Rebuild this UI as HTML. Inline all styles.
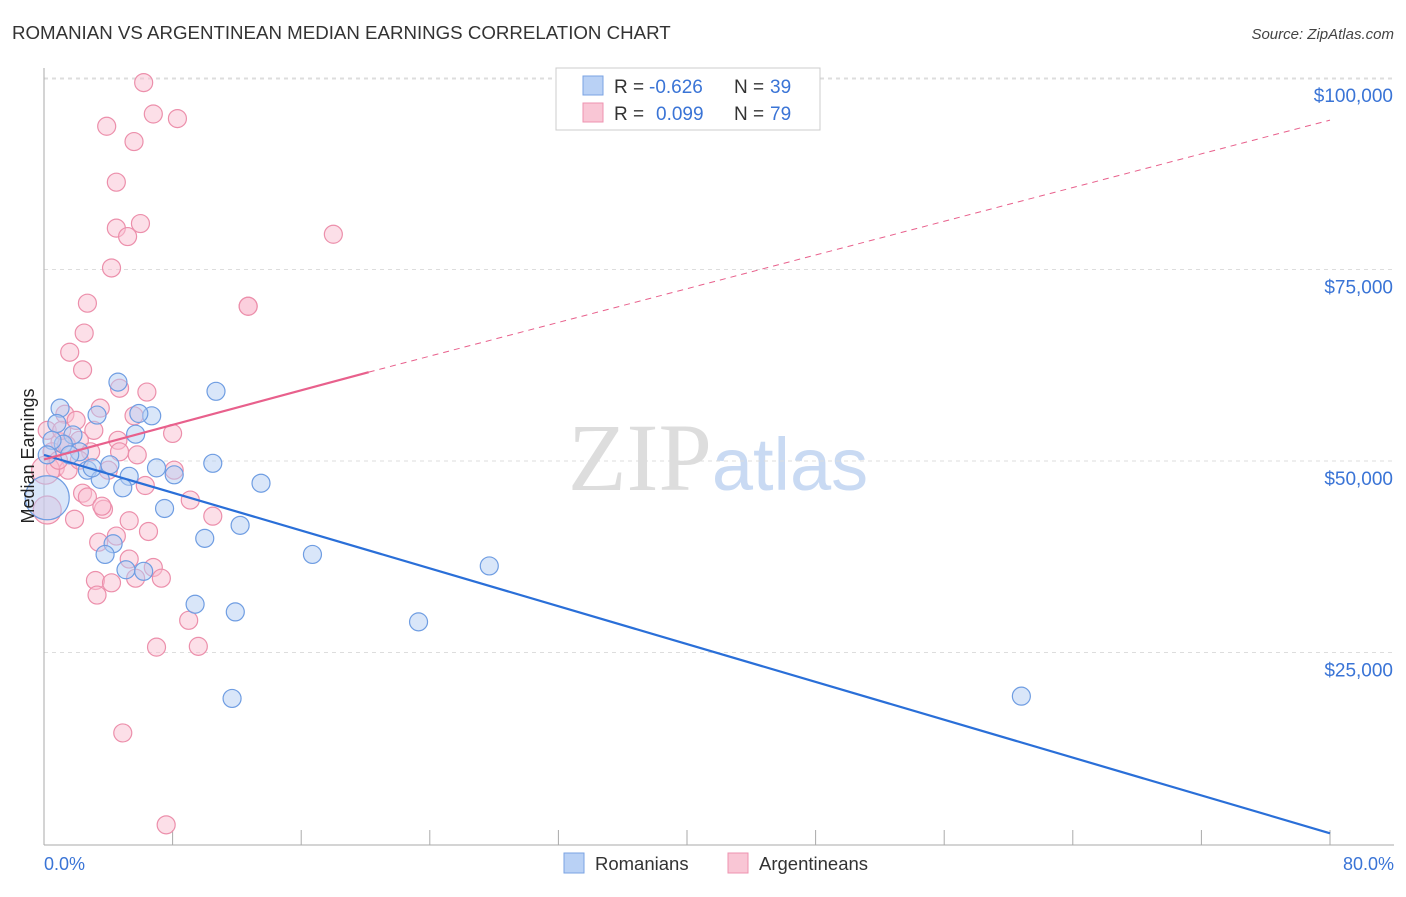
<!DOCTYPE html>
<html><head><meta charset="utf-8"><style>
body{margin:0;background:#fff;font-family:"Liberation Sans",sans-serif;}
svg text{font-family:"Liberation Sans",sans-serif;}
</style></head><body>
<svg id="chart" width="1406" height="892" viewBox="0 0 1406 892" xmlns="http://www.w3.org/2000/svg">
<text x="12" y="39" font-size="18.7" fill="#333">ROMANIAN VS ARGENTINEAN MEDIAN EARNINGS CORRELATION CHART</text>
<text x="1394" y="39" font-size="15" fill="#444" text-anchor="end" font-style="italic">Source: ZipAtlas.com</text>
<text x="718" y="490" font-size="96" text-anchor="middle"><tspan fill="#ddd" font-family="Liberation Serif,serif">ZIP</tspan><tspan fill="#c9daf3" font-size="74">atlas</tspan></text>
<g id="grid"></g>
<g id="axes"></g>
<g id="pts"></g>
<g id="lines"></g>
<text transform="translate(34,456) rotate(-90)" font-size="18" fill="#222" text-anchor="middle">Median Earnings</text>
<text x="44" y="870" font-size="18" fill="#3a74d6">0.0%</text>
<text x="1394" y="870" font-size="18" fill="#3a74d6" text-anchor="end">80.0%</text>
<g>
<rect x="556" y="68" width="264" height="62" fill="#fff" stroke="#ccc"/>
<rect x="583" y="76" width="20" height="19" fill="#b9d1f5" stroke="#7aa3e3"/>
<rect x="583" y="103" width="20" height="19" fill="#f9c6d5" stroke="#ee93b0"/>
<text x="614" y="93" font-size="19" fill="#333">R =</text>
<text x="649" y="93" font-size="19" fill="#3a74d6">-0.626</text>
<text x="734" y="93" font-size="19" fill="#333">N =</text>
<text x="770" y="93" font-size="19" fill="#3a74d6">39</text>
<text x="614" y="120" font-size="19" fill="#333">R =</text>
<text x="656" y="120" font-size="19" fill="#3a74d6">0.099</text>
<text x="734" y="120" font-size="19" fill="#333">N =</text>
<text x="770" y="120" font-size="19" fill="#3a74d6">79</text>
</g>
<g>
<rect x="564" y="853" width="20" height="20" fill="#b9d1f5" stroke="#7aa3e3"/>
<text x="595" y="870" font-size="18.5" fill="#333">Romanians</text>
<rect x="728" y="853" width="20" height="20" fill="#f9c6d5" stroke="#ee93b0"/>
<text x="759" y="870" font-size="18.5" fill="#333">Argentineans</text>
</g>
</svg>
<script>
const yTicks=[25000,50000,75000,100000];
const yTickLabels=["$25,000","$50,000","$75,000","$100,000"];
const blueX=[4.6,10.7,1.0,3.3,6.7,5.9,0.8,5.7,1.8,2.2,4.1,7.0,10.5,2.7,3.5,5.3,8.1,13.5,4.9,7.5,10.0,12.2,4.3,3.8,16.7,27.7,5.1,6.2,9.4,11.9,23.3,11.7,60.8,0.2,1.2,0.5,0.2,1.6,3.0];
const blueY=[60300,59100,56900,56000,55900,56200,54900,53500,53400,51200,49500,49100,49700,48800,47600,48000,48200,47100,46500,43800,39900,41600,39200,37800,37800,36300,35800,35600,31300,30300,29000,19000,19300,45200,52200,52700,50800,50800,49100];
const pinkX=[6.2,6.8,8.3,3.9,5.6,4.5,4.5,6.0,5.2,18.0,4.2,12.7,2.7,2.5,1.6,2.4,4.7,6.4,1.3,3.5,2.0,5.6,3.1,8.0,4.6,2.2,1.0,0.5,1.4,2.9,4.7,5.8,0.7,1.5,8.1,6.3,2.4,2.7,9.1,3.7,3.6,10.5,1.9,5.3,0.2,6.5,4.5,3.4,5.3,6.8,3.2,4.2,7.3,5.7,3.3,9.0,7.0,9.6,4.9,7.6,0.1,0.2,0.9,2.2,4.0,1.1,12.7];
const pinkY=[99400,95300,94700,93700,91700,86400,80400,81000,79300,79600,75200,70200,70600,66700,64200,61900,59500,59000,56100,56900,55300,55900,54000,53600,52700,52700,52500,51200,52100,51200,51200,50800,49100,48800,48800,46800,45800,45300,44900,43700,44100,42800,42400,42200,43600,40800,40200,39400,37200,36100,34400,34100,34700,34700,32500,29200,25700,25800,14500,2500,48800,54000,50100,50100,48800,54000,70200];
const blueTrend=[0,50800,80,1400];
const pinkTrend=[0,50200,20.2,61600,80,94500];
const X0=44,X1=1330,Y0=844,PER=191.5/25000;
const sx=v=>X0+(X1-X0)*v/80, sy=v=>Y0-v*PER;
const NS="http://www.w3.org/2000/svg";
function mk(tag,attrs,parent){const e=document.createElementNS(NS,tag);for(const k in attrs)e.setAttribute(k,attrs[k]);document.getElementById(parent).appendChild(e);return e;}
const gridTop=mk('line',{x1:X0,x2:1394,y1:79,y2:79,stroke:'#ddd','stroke-dasharray':'4,4'},'grid');


yTicks.forEach((t,i)=>{
 const g=mk('line',{x1:X0,x2:1394,y1:sy(t),y2:sy(t),stroke:'#ddd','stroke-dasharray':'4,4'},'grid');
 
 
 const l=mk('text',{x:1393,y:sy(t)+24,'font-size':19,fill:'#3a74d6','text-anchor':'end'},'axes');
 l.textContent=yTickLabels[i];
 
 
});
const ya=mk('line',{x1:X0,x2:X0,y1:68,y2:845,stroke:'#aaa'},'axes');


const xa=mk('line',{x1:X0,x2:1394,y1:845,y2:845,stroke:'#aaa'},'axes');


for(let i=0;i<=10;i++){
 const t=mk('line',{x1:sx(i*8),x2:sx(i*8),y1:830,y2:845,stroke:'#aaa'},'axes');
 
 
}
function pts(xs,ys,fill,stroke,name,bigIdx){
 xs.forEach((x,i)=>{
  const r=(bigIdx.includes(i))?(name==='romanian-point'?22:14):9;
  const c=mk('circle',{cx:sx(x),cy:sy(ys[i]),r:r,fill:fill,'fill-opacity':0.5,stroke:stroke,'stroke-width':1.2},'pts');
  
  
 });
}
pts(pinkX,pinkY,'#f9c0d1','#ec8fab','argentinean-point',[60,44]);
pts(blueX,blueY,'#b4cef4','#6f9de2','romanian-point',[33]);
const bl=mk('line',{x1:sx(blueTrend[0]),y1:sy(blueTrend[1]),x2:sx(blueTrend[2]),y2:sy(blueTrend[3]),stroke:'#2a6fd8','stroke-width':2.2},'lines');


const pl=mk('line',{x1:sx(pinkTrend[0]),y1:sy(pinkTrend[1]),x2:sx(pinkTrend[2]),y2:sy(pinkTrend[3]),stroke:'#e8608c','stroke-width':2.2},'lines');


const pd=mk('line',{x1:sx(pinkTrend[2]),y1:sy(pinkTrend[3]),x2:sx(pinkTrend[4]),y2:sy(pinkTrend[5]),stroke:'#e8608c','stroke-width':1,'stroke-dasharray':'6,5'},'lines');


</script>
</body></html>
